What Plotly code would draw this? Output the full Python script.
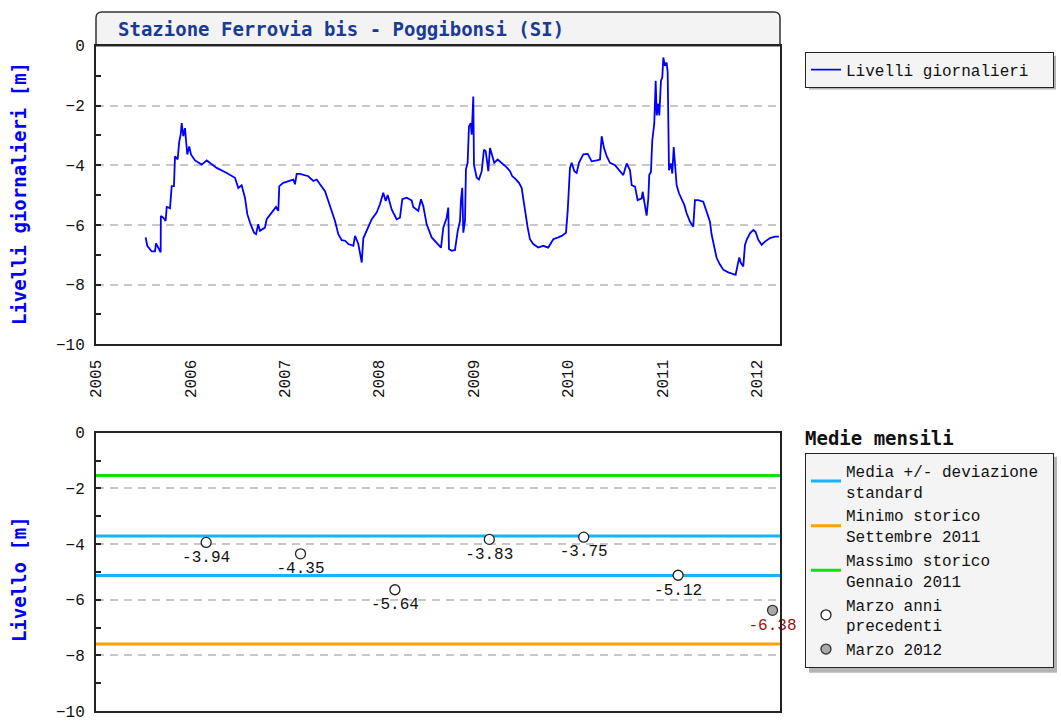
import plotly.graph_objects as go

# ---------------- DATA ----------------
# Daily levels (decimal year, level in m)
anni_giornalieri = [
    2005.526, 2005.543, 2005.590, 2005.625, 2005.636, 2005.660, 2005.685, 2005.687,
    2005.713, 2005.738, 2005.749, 2005.784, 2005.802, 2005.826, 2005.837, 2005.865,
    2005.882, 2005.897, 2005.908, 2005.925, 2005.943, 2005.953, 2005.967, 2005.988,
    2006.006, 2006.049, 2006.120, 2006.173, 2006.279, 2006.385, 2006.472, 2006.507,
    2006.543, 2006.578, 2006.603, 2006.631, 2006.674, 2006.695, 2006.719, 2006.737,
    2006.790, 2006.808, 2006.878, 2006.907, 2006.931, 2006.942, 2006.984, 2007.055,
    2007.090, 2007.108, 2007.126, 2007.161, 2007.249, 2007.302, 2007.338, 2007.373,
    2007.426, 2007.461, 2007.497, 2007.532, 2007.567, 2007.603, 2007.638, 2007.673,
    2007.726, 2007.744, 2007.779, 2007.815, 2007.832, 2007.868, 2007.921, 2007.973,
    2008.008, 2008.043, 2008.069, 2008.090, 2008.132, 2008.185, 2008.220, 2008.245,
    2008.291, 2008.344, 2008.361, 2008.414, 2008.443, 2008.467, 2008.503, 2008.556,
    2008.609, 2008.655, 2008.679, 2008.715, 2008.732, 2008.739, 2008.768, 2008.803,
    2008.832, 2008.856, 2008.867, 2008.880, 2008.891, 2008.909, 2008.919, 2008.937,
    2008.951, 2008.969, 2008.980, 2008.997, 2009.004, 2009.033, 2009.057, 2009.086,
    2009.110, 2009.128, 2009.145, 2009.156, 2009.174, 2009.192, 2009.219, 2009.255,
    2009.298, 2009.351, 2009.386, 2009.410, 2009.438, 2009.481, 2009.509, 2009.526,
    2009.552, 2009.573, 2009.597, 2009.632, 2009.685, 2009.738, 2009.791, 2009.844,
    2009.897, 2009.933, 2009.979, 2009.997, 2010.021, 2010.039, 2010.067, 2010.092,
    2010.116, 2010.162, 2010.209, 2010.251, 2010.304, 2010.339, 2010.357, 2010.381,
    2010.410, 2010.445, 2010.498, 2010.551, 2010.586, 2010.622, 2010.657, 2010.675,
    2010.710, 2010.738, 2010.781, 2010.791, 2010.816, 2010.833, 2010.851, 2010.861,
    2010.879, 2010.893, 2010.914, 2010.929, 2010.940, 2010.957, 2010.967, 2010.985,
    2010.999, 2011.010, 2011.027, 2011.045, 2011.056, 2011.070, 2011.091, 2011.105,
    2011.120, 2011.133, 2011.151, 2011.176, 2011.204, 2011.232, 2011.257, 2011.292,
    2011.327, 2011.345, 2011.380, 2011.433, 2011.469, 2011.504, 2011.522, 2011.550,
    2011.575, 2011.610, 2011.645, 2011.698, 2011.740, 2011.776, 2011.798, 2011.815,
    2011.832, 2011.857, 2011.875, 2011.893, 2011.928, 2011.963, 2011.988, 2012.016,
    2012.052, 2012.087, 2012.140, 2012.193, 2012.235,
]
livelli_giornalieri = [
    -6.42, -6.70, -6.89, -6.89, -6.62, -6.76, -6.92, -5.70,
    -5.76, -5.87, -5.40, -5.44, -4.70, -4.70, -3.70, -3.81,
    -3.20, -2.98, -2.59, -3.03, -2.76, -3.14, -3.64, -3.37,
    -3.64, -3.84, -3.98, -3.84, -4.09, -4.26, -4.42, -4.76,
    -4.67, -5.09, -5.64, -5.92, -6.26, -6.31, -5.98, -6.20,
    -6.09, -5.81, -5.53, -5.40, -5.53, -4.70, -4.59, -4.53,
    -4.48, -4.64, -4.29, -4.29, -4.37, -4.53, -4.48, -4.64,
    -4.87, -5.20, -5.53, -5.87, -6.31, -6.51, -6.53, -6.64,
    -6.70, -6.37, -6.64, -7.26, -6.45, -6.20, -5.81, -5.59,
    -5.31, -4.92, -5.20, -5.00, -5.48, -5.81, -5.76, -5.14,
    -5.09, -5.18, -5.40, -5.53, -5.14, -5.37, -5.98, -6.42,
    -6.59, -6.76, -6.09, -5.76, -5.42, -6.81, -6.87, -6.84,
    -6.20, -5.87, -5.14, -4.76, -6.26, -5.87, -4.14, -3.92,
    -2.70, -2.59, -2.98, -1.70, -3.98, -4.42, -4.48, -4.20,
    -3.48, -3.53, -3.92, -4.20, -3.42, -3.59, -3.92, -3.81,
    -3.92, -4.07, -4.20, -4.37, -4.44, -4.59, -4.76, -5.14,
    -5.59, -6.09, -6.48, -6.64, -6.76, -6.70, -6.76, -6.48,
    -6.42, -6.37, -6.26, -5.53, -4.09, -3.92, -4.20, -4.26,
    -3.92, -3.64, -3.62, -3.87, -3.84, -3.81, -3.03, -3.42,
    -3.70, -3.92, -4.00, -4.22, -4.33, -3.94, -4.17, -4.67,
    -4.72, -5.17, -5.11, -4.89, -5.44, -5.69, -5.11, -4.33,
    -4.22, -3.17, -2.61, -1.17, -2.33, -1.94, -2.33, -1.17,
    -1.06, -0.39, -0.67, -0.56, -0.89, -4.17, -3.94, -4.28,
    -3.39, -4.06, -4.67, -4.94, -5.11, -5.33, -5.61, -5.89,
    -6.06, -5.17, -5.17, -5.22, -5.56, -5.89, -6.33, -6.78,
    -7.11, -7.33, -7.50, -7.59, -7.64, -7.67, -7.33, -7.09,
    -7.28, -7.39, -6.67, -6.50, -6.28, -6.17, -6.24, -6.50,
    -6.67, -6.56, -6.44, -6.39, -6.39,
]

# Monthly means for March (lower chart)
anni_marzo = [2006, 2007, 2008, 2009, 2010, 2011]
livelli_marzo = [-3.94, -4.35, -5.64, -3.83, -3.75, -5.12]
anno_marzo_corrente = [2012]
livello_marzo_corrente = [-6.38]
media_piu_dev = -3.71
media_meno_dev = -5.13
minimo_storico = -7.59     # Settembre 2011
massimo_storico = -1.53    # Gennaio 2011

anni_asse = [2005, 2006, 2007, 2008, 2009, 2010, 2011, 2012]
x_inizio, x_fine = 2005.0, 2012.246
offset_marzo = 2 / 12      # start of March within the year

# ---------------- STYLE ----------------
W, H = 1061, 722
ML, MR = 96, 281
PW = W - ML - MR
IMG_C, IMG_S = 5.0, 0.98    # measured vertical offset/scale of the photographed page


def px_x(px):
    return (px - ML) / PW


def px_y(py):
    return max(0.0, min(1.0, 1 - (py - IMG_C) / IMG_S / H))


MONO = "Liberation Mono"
BOLD = "DejaVu Sans Mono"
GRID = "#c8c8c8"
AX = "#222222"
NB = "\u00a0"

fig = go.Figure()

# Upper chart: daily levels
fig.add_trace(go.Scatter(
    x=anni_giornalieri, y=livelli_giornalieri, mode="lines",
    line=dict(color="#0000ff", width=1.8),
    name="Livelli giornalieri" + NB + NB, legend="legend", xaxis="x", yaxis="y",
))

# Lower chart: reference lines
fig.add_trace(go.Scatter(
    x=[x_inizio, x_fine, None, x_inizio, x_fine],
    y=[media_piu_dev, media_piu_dev, None, media_meno_dev, media_meno_dev],
    mode="lines", line=dict(color="#14b4f8", width=3),
    name="Media +/- deviazione" + NB + "<br>standard", legend="legend2",
    xaxis="x2", yaxis="y2",
))
fig.add_trace(go.Scatter(
    x=[x_inizio, x_fine], y=[minimo_storico, minimo_storico],
    mode="lines", line=dict(color="#ffa200", width=3),
    name="Minimo storico<br>Settembre 2011", legend="legend2",
    xaxis="x2", yaxis="y2",
))
fig.add_trace(go.Scatter(
    x=[x_inizio, x_fine], y=[massimo_storico, massimo_storico],
    mode="lines", line=dict(color="#10e010", width=3),
    name="Massimo storico<br>Gennaio 2011", legend="legend2",
    xaxis="x2", yaxis="y2",
))
fig.add_trace(go.Scatter(
    x=[a + offset_marzo for a in anni_marzo], y=livelli_marzo,
    mode="markers+text",
    text=[f"{v:.2f}" for v in livelli_marzo], textposition="bottom center",
    textfont=dict(family=MONO, size=16, color="#111111"),
    marker=dict(symbol="circle", size=10, color="white",
                line=dict(color="#222222", width=1.3)),
    name="Marzo anni<br>precedenti", legend="legend2",
    xaxis="x2", yaxis="y2", cliponaxis=False,
))
fig.add_trace(go.Scatter(
    x=[a + offset_marzo for a in anno_marzo_corrente], y=livello_marzo_corrente,
    mode="markers+text",
    text=[f"{v:.2f}" for v in livello_marzo_corrente], textposition="bottom center",
    textfont=dict(family=MONO, size=16, color="#a01010"),
    marker=dict(symbol="circle", size=10, color="#aaaaaa",
                line=dict(color="#333333", width=1.3)),
    name="Marzo 2012", legend="legend2",
    xaxis="x2", yaxis="y2", cliponaxis=False,
))

yaxis_common = dict(
    range=[-10, 0], tick0=0, dtick=2, ticks="inside", ticklen=5,
    tickcolor=AX, tickwidth=1.5,
    showgrid=True, gridcolor=GRID, gridwidth=1.5, griddash="8px,6px",
    showline=True, linecolor=AX, linewidth=2, mirror=True, zeroline=False,
    minor=dict(dtick=1, ticks="inside", ticklen=5, tickcolor=AX, showgrid=False),
    tickfont=dict(family=MONO, size=16, color="#111111"),
    ticklabelstandoff=6, ticklabeloverflow="allow", fixedrange=True,
)

fig.update_layout(
    width=W, height=H, autosize=False,
    margin=dict(l=ML, r=MR, t=0, b=0),
    paper_bgcolor="white", plot_bgcolor="white",
    font=dict(family=MONO, size=16, color="#111111"),
    showlegend=True,
    xaxis=dict(
        domain=[0, 1], range=[x_inizio, x_fine], anchor="y",
        tickvals=anni_asse, ticktext=[str(a) for a in anni_asse],
        tickangle=-90, ticks="", showgrid=False, zeroline=False,
        showline=True, linecolor=AX, linewidth=2, mirror=True,
        tickfont=dict(family=MONO, size=16, color="#111111"),
        ticklabelstandoff=7,
    ),
    yaxis=dict(domain=[px_y(344), px_y(44)], anchor="x", **yaxis_common),
    xaxis2=dict(
        domain=[0, 1], range=[x_inizio, x_fine], anchor="y2",
        showticklabels=False, ticks="", showgrid=False, zeroline=False,
        showline=True, linecolor=AX, linewidth=2, mirror=True,
    ),
    yaxis2=dict(domain=[px_y(717), px_y(433)], anchor="x2", **yaxis_common),
    legend=dict(
        x=px_x(805), y=px_y(50), xanchor="left", yanchor="top",
        bgcolor="#f4f4f4", bordercolor=AX, borderwidth=1,
        font=dict(family=MONO, size=16, color="#111111"), itemwidth=30,
    ),
    legend2=dict(
        x=px_x(805), y=px_y(453), xanchor="left", yanchor="top",
        bgcolor="#f4f4f4", bordercolor=AX, borderwidth=1,
        font=dict(family=MONO, size=16, color="#111111"), itemwidth=30,
        tracegroupgap=6,
    ),
)

# Legend drop shadows
for (x0, y0, x1, y1) in [(809, 54, 1056, 88), (809, 457, 1057, 674)]:
    fig.add_shape(type="rect", xref="paper", yref="paper",
                  x0=px_x(x0), x1=px_x(x1), y0=px_y(y1), y1=px_y(y0),
                  fillcolor="#b4b4b4", line=dict(width=0), layer="below")

# Title box with rounded top corners
rx, ry = 6 / PW, 6 / H
yb, yt = px_y(44), px_y(10)
fig.add_shape(
    type="path", xref="paper", yref="paper",
    path=(f"M 0,{yb} L 0,{yt - ry} Q 0,{yt} {rx},{yt} L {1 - rx},{yt} "
          f"Q 1,{yt} 1,{yt - ry} L 1,{yb} Z"),
    fillcolor="#f3f3f3", line=dict(color="#333333", width=1.5), layer="below",
)

fig.add_annotation(
    text="<b>Stazione Ferrovia bis - Poggibonsi (SI)</b>",
    xref="paper", yref="paper", x=px_x(116), y=px_y(27),
    xanchor="left", yanchor="middle", showarrow=False,
    font=dict(family=BOLD, size=19, color="#1a3b94"),
)
fig.add_annotation(
    text="<b>Livelli giornalieri [m]</b>", textangle=-90,
    xref="paper", yref="paper", x=px_x(19), y=px_y(193),
    xanchor="center", yanchor="middle", showarrow=False,
    font=dict(family=BOLD, size=19, color="#0000ff"),
)
fig.add_annotation(
    text="<b>Livello [m]</b>", textangle=-90,
    xref="paper", yref="paper", x=px_x(19), y=px_y(580),
    xanchor="center", yanchor="middle", showarrow=False,
    font=dict(family=BOLD, size=19, color="#0000ff"),
)
fig.add_annotation(
    text="<b>Medie mensili</b>",
    xref="paper", yref="paper", x=px_x(803), y=px_y(438),
    xanchor="left", yanchor="middle", showarrow=False,
    font=dict(family=BOLD, size=19, color="#111111"),
)

fig.write_html(
    "out.html",
    config={"displayModeBar": False},
    post_script=(
        "document.body.style.margin='0';"
        "document.documentElement.style.overflow='hidden';"
    ),
)
